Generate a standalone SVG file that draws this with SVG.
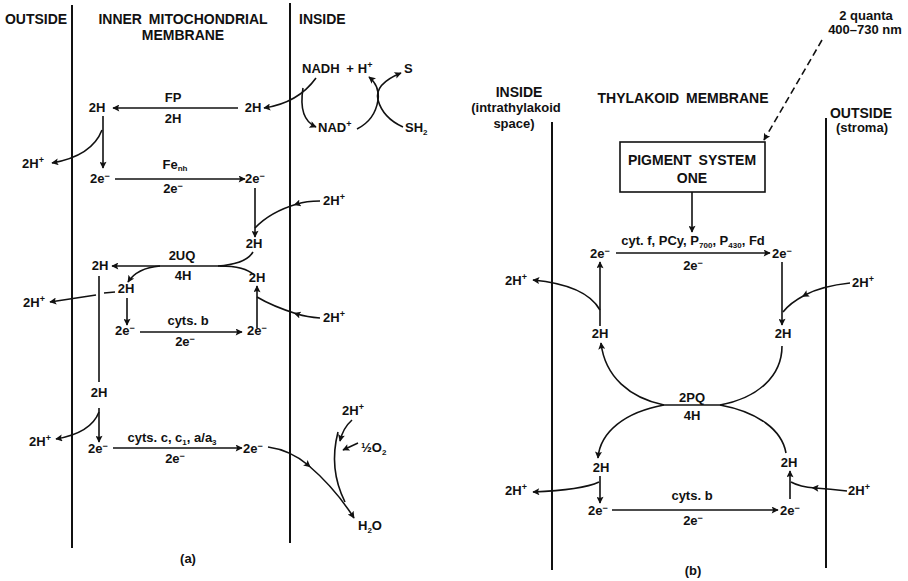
<svg xmlns="http://www.w3.org/2000/svg" width="908" height="581" viewBox="0 0 908 581">
<defs>
<marker id="ah" viewBox="0 0 10 10" refX="9" refY="5" markerWidth="9" markerHeight="7" markerUnits="userSpaceOnUse" orient="auto"><path d="M0,0 L10,5 L0,10 L2,5 z" fill="#111"/></marker>
<marker id="am" viewBox="0 0 10 10" refX="5" refY="5" markerWidth="9" markerHeight="7" markerUnits="userSpaceOnUse" orient="auto"><path d="M0,0 L10,5 L0,10 L2,5 z" fill="#111"/></marker>
</defs>
<style>
text{font-family:"Liberation Sans",Arial,Helvetica,sans-serif;font-weight:bold;font-size:13px;fill:#111}
.h{font-size:14px}
.m{text-anchor:middle}
.sup{font-size:9px}
.sub{font-size:8px}
.mem{stroke:#111;stroke-width:2;fill:none}
.c{stroke:#111;stroke-width:1.6;fill:none}
.a{marker-end:url(#ah)}
.mid{marker-mid:url(#am)}
</style>
<rect width="908" height="581" fill="#fff"/>

<!-- Panel (a) -->
<g id="membranes-a">
<line class="mem" x1="72" y1="5" x2="72" y2="548"/>
<line class="mem" x1="290" y1="3" x2="290" y2="543"/>
</g>
<g id="headers-a">
<text class="h m" x="36" y="24">OUTSIDE</text>
<text class="h m" x="183" y="24">INNER <tspan dx="3">MITOCHONDRIAL</tspan></text>
<text class="h m" x="183" y="40">MEMBRANE</text>
<text class="h" x="299" y="24">INSIDE</text>
<text class="m" x="188" y="563">(a)</text>
</g>

<g id="nadh"><text x="302" y="73">NADH <tspan dx="3">+</tspan><tspan dx="4">H</tspan><tspan class="sup" dy="-5">+</tspan></text></g>
<g id="s"><text x="404" y="73">S</text></g>
<g id="nad"><text x="318" y="132">NAD<tspan class="sup" dy="-5">+</tspan></text></g>
<g id="sh2"><text x="405" y="132">SH<tspan class="sub" dy="3">2</tspan></text></g>

<g id="fp-left"><text class="m" x="97" y="112">2H</text></g>
<g id="fp-label"><text class="m" x="173" y="102">FP</text><text class="m" x="173" y="123">2H</text></g>
<g id="fp-right"><text class="m" x="253" y="112">2H</text></g>
<g id="hplus-a1"><text x="22" y="168">2H<tspan class="sup" dy="-5">+</tspan></text></g>

<g id="fe-left"><text x="90" y="183">2e<tspan class="sup" dy="-4">−</tspan></text></g>
<g id="fe-label"><text class="m" x="175" y="169">Fe<tspan class="sub" dy="2">nh</tspan></text><text class="m" x="173" y="193">2e<tspan class="sup" dy="-4">−</tspan></text></g>
<g id="fe-right"><text x="245" y="183">2e<tspan class="sup" dy="-4">−</tspan></text></g>
<g id="hplus-a2"><text x="323" y="205">2H<tspan class="sup" dy="-5">+</tspan></text></g>
<g id="uq-in1"><text class="m" x="254" y="248">2H</text></g>

<g id="uq-left"><text class="m" x="100" y="270">2H</text></g>
<g id="uq-label"><text class="m" x="182" y="260">2UQ</text><text class="m" x="183" y="280">4H</text></g>
<g id="uq-in2"><text class="m" x="257" y="282">2H</text></g>
<g id="uq-branch"><text class="m" x="126" y="293">2H</text></g>
<g id="hplus-a3"><text x="23" y="307">2H<tspan class="sup" dy="-5">+</tspan></text></g>
<g id="hplus-a4"><text x="323" y="322">2H<tspan class="sup" dy="-5">+</tspan></text></g>

<g id="b-left"><text x="115" y="335">2e<tspan class="sup" dy="-4">−</tspan></text></g>
<g id="b-label"><text class="m" x="188" y="325">cyts. b</text><text class="m" x="185" y="346">2e<tspan class="sup" dy="-4">−</tspan></text></g>
<g id="b-right"><text x="247" y="335">2e<tspan class="sup" dy="-4">−</tspan></text></g>

<g id="c-2h"><text class="m" x="99" y="397">2H</text></g>
<g id="hplus-a5"><text x="29" y="446">2H<tspan class="sup" dy="-5">+</tspan></text></g>
<g id="c-left"><text x="88" y="453">2e<tspan class="sup" dy="-4">−</tspan></text></g>
<g id="c-label"><text class="m" x="172" y="442">cyts. c, c<tspan class="sub" dy="3">1</tspan><tspan dy="-3">, a/a</tspan><tspan class="sub" dy="3">3</tspan></text><text class="m" x="175" y="463">2e<tspan class="sup" dy="-4">−</tspan></text></g>
<g id="c-right"><text x="243" y="453">2e<tspan class="sup" dy="-4">−</tspan></text></g>
<g id="hplus-a6"><text x="342" y="415">2H<tspan class="sup" dy="-5">+</tspan></text></g>
<g id="o2"><text x="361" y="452">½O<tspan class="sub" dy="3">2</tspan></text></g>
<g id="h2o"><text x="358" y="530">H<tspan class="sub" dy="3">2</tspan><tspan dy="-3">O</tspan></text></g>

<g id="connectors-a">
<path class="c a" d="M316,78 Q298,103 264,108"/>
<path class="c a" d="M303,88 Q298,119 316,127"/>
<path class="c a" d="M357,129 Q375,120 378,100 Q380,86 369,77"/>
<path class="c a" d="M403,127 Q383,118 378,100 Q374,84 401,73"/>
<path class="c a" d="M238,108 L113,108"/>
<path class="c a" d="M103,116 L103,168"/>
<path class="c a" d="M102,130 Q92,156 52,163"/>
<path class="c a" d="M115,179 L245,179"/>
<path class="c a" d="M255,188 L255,237"/>
<path class="c mid" d="M320,201 Q306,201 297,204 Q270,212 255,228"/>
<path class="c a" d="M227,266 L112,266"/>
<path class="c" d="M253,252 Q246,264 218,266"/>
<path class="c" d="M220,266 Q245,266 254,275"/>
<path class="c a" d="M160,266 Q137,268 128,282"/>
<path class="c" d="M99,276 L99,382"/>
<path class="c" d="M115,292 L104,293"/>
<path class="c a" d="M96,295 L50,302"/>
<path class="c a" d="M127,298 L127,325"/>
<path class="c a" d="M140,332 L242,332"/>
<path class="c a" d="M257,328 L257,286"/>
<path class="c mid" d="M320,318 Q307,317 297,314 Q272,306 257,297"/>
<path class="c a" d="M99,408 L99,442"/>
<path class="c a" d="M99,412 Q91,433 56,439"/>
<path class="c a" d="M113,448 L242,448"/>
<path class="c a mid" d="M268,447 Q290,450 308,465 Q335,488 354,518"/>
<path class="c a" d="M352,420 Q343,428 340,441"/>
<path class="c a" d="M358,443 L343,450"/>
<path class="c" d="M338,432 C332,455 334,480 345,502"/>
</g>

<!-- Panel (b) -->
<g id="membranes-b">
<line class="mem" x1="552" y1="122" x2="552" y2="570"/>
<line class="mem" x1="826" y1="118" x2="826" y2="568"/>
</g>
<g id="headers-b">
<text class="h m" x="519" y="97">INSIDE</text>
<text class="m" x="516" y="112">(intrathylakoid</text>
<text class="m" x="514" y="128">space)</text>
<text class="h m" x="683" y="103">THYLAKOID <tspan dx="3">MEMBRANE</tspan></text>
<text class="h m" x="861" y="118">OUTSIDE</text>
<text class="m" x="862" y="132">(stroma)</text>
<text class="m" x="693" y="575">(b)</text>
</g>
<g id="quanta"><text class="m" x="866" y="20">2 quanta</text><text class="m" x="865" y="34">400–730 nm</text></g>
<g id="ps1">
<rect x="620" y="142" width="145" height="50" fill="#fff" stroke="#111" stroke-width="1.6"/>
<text class="h m" x="692" y="165">PIGMENT <tspan dx="3">SYSTEM</tspan></text>
<text class="h m" x="692" y="183">ONE</text>
</g>

<g id="f-left"><text x="590" y="258">2e<tspan class="sup" dy="-4">−</tspan></text></g>
<g id="f-label"><text class="m" x="693" y="245">cyt. f, PCy, P<tspan class="sub" dy="3">700</tspan><tspan dy="-3">, P</tspan><tspan class="sub" dy="3">430</tspan><tspan dy="-3">, Fd</tspan></text><text class="m" x="693" y="270">2e<tspan class="sup" dy="-4">−</tspan></text></g>
<g id="f-right"><text x="772" y="258">2e<tspan class="sup" dy="-4">−</tspan></text></g>
<g id="hplus-b1"><text x="505" y="285">2H<tspan class="sup" dy="-5">+</tspan></text></g>
<g id="hplus-b2"><text x="852" y="287">2H<tspan class="sup" dy="-5">+</tspan></text></g>
<g id="pq-in-left"><text class="m" x="600" y="338">2H</text></g>
<g id="pq-in-right"><text class="m" x="783" y="338">2H</text></g>
<g id="pq-label"><text class="m" x="692" y="402">2PQ</text><text class="m" x="692" y="420">4H</text></g>
<g id="pq-out-left"><text class="m" x="601" y="472">2H</text></g>
<g id="pq-out-right"><text class="m" x="789" y="467">2H</text></g>
<g id="hplus-b3"><text x="505" y="495">2H<tspan class="sup" dy="-5">+</tspan></text></g>
<g id="hplus-b4"><text x="848" y="495">2H<tspan class="sup" dy="-5">+</tspan></text></g>
<g id="bb-left"><text x="588" y="515">2e<tspan class="sup" dy="-4">−</tspan></text></g>
<g id="bb-label"><text class="m" x="692" y="500">cyts. b</text><text class="m" x="693" y="525">2e<tspan class="sup" dy="-4">−</tspan></text></g>
<g id="bb-right"><text x="780" y="515">2e<tspan class="sup" dy="-4">−</tspan></text></g>

<g id="connectors-b">
<path class="c a" d="M822,40 L764,140" stroke-dasharray="7,4"/>
<path class="c a" d="M692,192 L692,232"/>
<path class="c a" d="M616,253 L770,253"/>
<path class="c a" d="M600,326 L600,262"/>
<path class="c a" d="M600,310 Q586,285 533,280"/>
<path class="c a" d="M782,262 L782,325"/>
<path class="c mid" d="M850,283 Q822,286 805,295 Q790,303 783,312"/>
<path class="c a" d="M664,405 C630,398 605,377 601,343"/>
<path class="c" d="M782,346 C782,376 758,398 720,405"/>
<path class="c" d="M664,405 L720,405"/>
<path class="c a" d="M664,405 C625,412 600,432 598,458"/>
<path class="c" d="M720,405 C758,412 782,430 786,453"/>
<path class="c a" d="M600,476 L600,503"/>
<path class="c a" d="M599,482 Q582,490 533,492"/>
<path class="c a" d="M612,510 L778,510"/>
<path class="c a" d="M790,499 L790,471"/>
<path class="c mid" d="M847,491 Q830,489 815,488 Q800,487 791,482"/>
</g>
</svg>
